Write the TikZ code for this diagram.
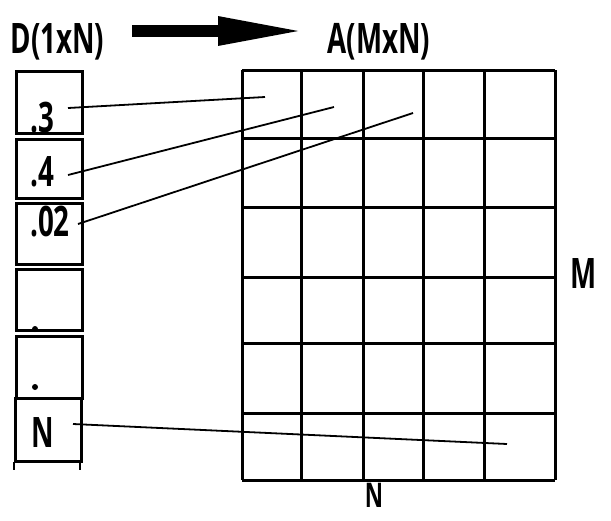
\documentclass[tikz,border=0pt]{standalone}
\usepackage{fontspec}
\setmainfont{Open Sans}
\usepackage{graphicx}
\usetikzlibrary{arrows.meta}
\newcommand\lbl[1]{\scalebox{0.66}[1]{\bfseries #1}}
\begin{document}
\begin{tikzpicture}[x=1pt,y=-1pt,
  cellbox/.style={draw, line width=3pt, minimum width=66pt, anchor=north west, inner sep=0pt},
  txt/.style={inner sep=0pt, font=\fontsize{42}{48}\selectfont},
  link/.style={line width=1.8pt},
  gridline/.style={line width=3pt},
  bigarrow/.style={line width=12pt, -{Triangle[length=89pt,width=26pt]}}]
\useasboundingbox (0,0) rectangle (611,520);
% titles
\node[txt] (D) at (57.5,42) {\lbl{D(1xN)}};
\node[txt] (A) at (379,42) {\lbl{A(MxN)}};
\coordinate (arS) at (132,31);
\coordinate (arE) at (307,31);
\draw[bigarrow] (arS) -- (arE);
% left column boxes
\node[cellbox, minimum height=62pt] (b1) at (15,70) {};
\node[cellbox, minimum height=59pt] (b2) at (15,138) {};
\node[cellbox, minimum height=61pt] (b3) at (15,202) {};
\node[cellbox, minimum height=61pt] (b4) at (15,268) {};
\node[cellbox, minimum height=62pt] (b5) at (15,335) {};
\node[cellbox, minimum height=63pt] (b6) at (14,397) {};
\draw[line width=1.2pt] (14,462) -- (14,470) (80,462) -- (80,470);
% values
\node[txt] (v1) at (42,118) {\lbl{.3}};
\node[txt] (v2) at (42,172) {\lbl{.4}};
\node[txt] (v3) at (50,222) {\lbl{.02}};
\node[txt] (v6) at (43,433) {\lbl{N}};
\fill (35,329) circle (3pt);
\fill (35,387) circle (3pt);
% matrix grid
\foreach \x in {242,301,363,423,484,555} \draw[gridline] (\x,70) -- (\x,480);
\foreach \y in {70,138,207,277,343,413,480} \draw[gridline] (242,\y) -- (555,\y);
\node[txt] (M) at (584,274) {\lbl{M}};
\node[txt, font=\fontsize{34}{40}\selectfont, anchor=base] (N) at (374,507) {\lbl{N}};
% connectors
\coordinate (s1) at (68,108); \coordinate (e1) at (265,97);
\coordinate (s2) at (68,175); \coordinate (e2) at (334,107);
\coordinate (s3) at (78,224); \coordinate (e3) at (413,113);
\coordinate (s6) at (73,424); \coordinate (e6) at (507,444);
\draw[link] (s1) -- (e1);
\draw[link] (s2) -- (e2);
\draw[link] (s3) -- (e3);
\draw[link] (s6) -- (e6);
\end{tikzpicture}
\end{document}
